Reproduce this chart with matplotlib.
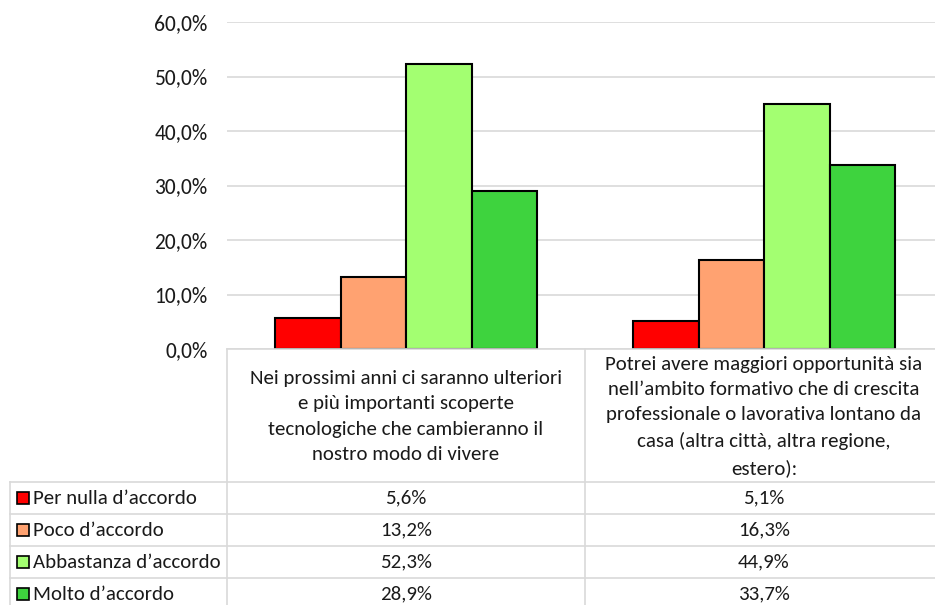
import matplotlib
matplotlib.use("Agg")
import matplotlib.pyplot as plt
from matplotlib import font_manager
from matplotlib.patches import Rectangle
from matplotlib.lines import Line2D

# ---- data -------------------------------------------------------------
categories = [
    "Nei prossimi anni ci saranno ulteriori\ne più importanti scoperte\ntecnologiche che cambieranno il\nnostro modo di vivere",
    "Potrei avere maggiori opportunità sia\nnell’ambito formativo che di crescita\nprofessionale o lavorativa lontano da\ncasa (altra città, altra regione,\nestero):",
]
series_names = ["Per nulla d’accordo", "Poco d’accordo", "Abbastanza d’accordo", "Molto d’accordo"]
values = [
    [5.6, 5.1],
    [13.2, 16.3],
    [52.3, 44.9],
    [28.9, 33.7],
]
colors = ["#FF0000", "#FFA271", "#A3FF71", "#3ED33E"]
yticks = [0, 10, 20, 30, 40, 50, 60]

# ---- font ---------------------------------------------------------------
available = {f.name for f in font_manager.fontManager.ttflist}
family = "DejaVu Sans"
for cand in ["Carlito", "Liberation Sans Narrow", "Open Sans", "Noto Sans", "Liberation Sans"]:
    if cand in available:
        family = cand
        break
plt.rcParams["font.family"] = family
TXT = "#1a1a1a"
GRID = "#d9d9d9"
FS = 15
FS_TICK = 15.5

W, H = 935, 605
fig = plt.figure(figsize=(W / 100, H / 100), dpi=100)

def fx(px):
    return px / W

def fy(py):
    return 1 - py / H

# ---- bar chart ------------------------------------------------------------
left, right, top, bottom = 227, 943, 22, 349
ax = fig.add_axes([fx(left), fy(bottom), fx(right - left), fy(top) - fy(bottom)])
ax.set_xlim(-0.5, len(categories) - 0.5)
ax.set_ylim(0, 60)
bw = 65.5 / 358
for j, (name, vals) in enumerate(zip(series_names, values)):
    xs = [i + (j - 1.5) * bw for i in range(len(categories))]
    ax.bar(xs, vals, width=bw, color=colors[j], edgecolor="black", linewidth=1.5, zorder=3)
ax.set_yticks(yticks)
ax.set_yticklabels([f"{t:.1f}%".replace(".", ",") for t in yticks], fontsize=FS_TICK, color=TXT)
ax.tick_params(axis="y", length=0, pad=14)
ax.set_xticks([])
ax.grid(axis="y", color=GRID, linewidth=1.2, zorder=0)
for s in ax.spines.values():
    s.set_visible(False)

# ---- data table ---------------------------------------------------------------
ov = fig.add_axes([0, 0, 1, 1])
ov.set_xlim(0, W)
ov.set_ylim(H, 0)
ov.axis("off")

col_edges = [227, 585, 943]
row_edges = [349, 482, 514, 546, 578, 610]
lw = 1.2
# header
ov.add_line(Line2D([col_edges[0], W + 10], [row_edges[0]] * 2, color=GRID, lw=lw))
for xe in col_edges:
    ov.add_line(Line2D([xe, xe], [row_edges[0], H + 10], color=GRID, lw=lw))
ov.add_line(Line2D([10, 10], [row_edges[1], H + 10], color=GRID, lw=lw))
for ye in row_edges[1:5]:
    ov.add_line(Line2D([10, W + 10], [ye, ye], color=GRID, lw=lw))

for i, cat in enumerate(categories):
    cx = (col_edges[i] + col_edges[i + 1]) / 2
    ov.text(cx, (row_edges[0] + row_edges[1]) / 2 + 1, cat, ha="center", va="center",
            fontsize=FS, color=TXT, linespacing=1.6)

for j, name in enumerate(series_names):
    cy = (row_edges[j + 1] + row_edges[j + 2]) / 2
    ov.add_patch(Rectangle((17, cy - 6), 12, 12, facecolor=colors[j], edgecolor="black", lw=1.2))
    ov.text(33, cy, name, ha="left", va="center", fontsize=FS, color=TXT)
    for i in range(len(categories)):
        cx = (col_edges[i] + col_edges[i + 1]) / 2
        ov.text(cx, cy, f"{values[j][i]:.1f}%".replace(".", ","), ha="center", va="center",
                fontsize=FS, color=TXT)

fig.savefig("out.png", dpi=100)
